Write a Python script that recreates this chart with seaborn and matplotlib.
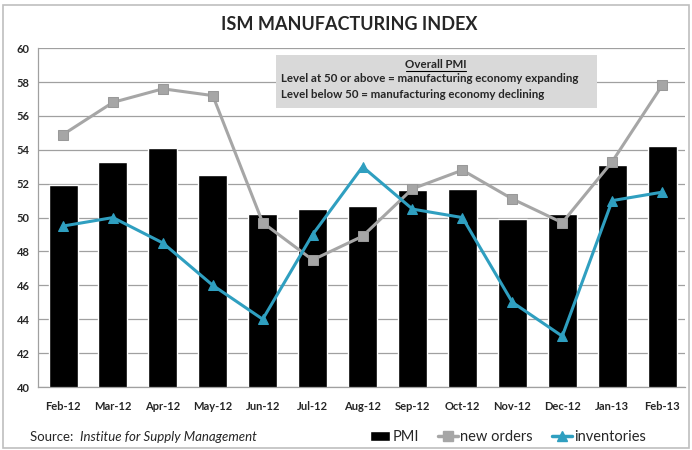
import matplotlib
matplotlib.use("Agg")
import matplotlib.pyplot as plt
import seaborn as sns
import pandas as pd
from matplotlib.patches import Rectangle
from matplotlib.lines import Line2D

months = ["Feb-12", "Mar-12", "Apr-12", "May-12", "Jun-12", "Jul-12", "Aug-12",
          "Sep-12", "Oct-12", "Nov-12", "Dec-12", "Jan-13", "Feb-13"]
pmi = [51.9, 53.3, 54.1, 52.5, 50.2, 50.5, 50.7, 51.6, 51.7, 49.9, 50.2, 53.1, 54.2]
new_orders = [54.9, 56.8, 57.6, 57.2, 49.7, 47.5, 48.9, 51.7, 52.8, 51.1, 49.7, 53.3, 57.8]
inventories = [49.5, 50.0, 48.5, 46.0, 44.0, 49.0, 53.0, 50.5, 50.0, 45.0, 43.0, 51.0, 51.5]
y_ticks = [40, 42, 44, 46, 48, 50, 52, 54, 56, 58, 60]

sns.set_theme(style="white")
plt.rcParams['font.family'] = ['Lato', 'DejaVu Sans']

df = pd.DataFrame({"month": months, "PMI": pmi, "new orders": new_orders,
                   "inventories": inventories})

fig = plt.figure(figsize=(6.92, 4.5), dpi=100)
ax = fig.add_axes([0.055, 0.14, 0.935, 0.753])

GRAY = "#a6a6a6"
TEAL = "#2f9fc0"

sns.barplot(data=df, x="month", y="PMI", color="black", width=0.58,
            saturation=1, ax=ax, zorder=2)
sns.lineplot(data=df, x="month", y="new orders", color=GRAY, marker="s",
             markersize=7, linewidth=2.2, markeredgecolor="#999999", sort=False,
             ax=ax, zorder=3)
sns.lineplot(data=df, x="month", y="inventories", color=TEAL, marker="^",
             markersize=7, linewidth=2.2, markeredgecolor=TEAL, sort=False,
             ax=ax, zorder=4)

ax.set_ylim(40, 60)
ax.set_xlim(-0.5, 12.46)
ax.set_yticks(y_ticks)
ax.set_yticklabels([str(v) for v in y_ticks], fontsize=8, fontweight="bold")
ax.set_xticks(range(len(months)))
ax.set_xticklabels(months, fontsize=8, fontweight="bold")
ax.tick_params(axis="x", pad=10, length=0)
ax.tick_params(axis="y", pad=6, length=0)
ax.set_xlabel("")
ax.set_ylabel("")
ax.yaxis.grid(True, color="#a0a0a0", linewidth=0.9, zorder=0)
ax.set_axisbelow(True)
for s in ["top", "right"]:
    ax.spines[s].set_visible(False)
ax.spines["left"].set_color("#a0a0a0")
ax.spines["bottom"].set_color("#a0a0a0")
ax.spines["left"].set_linewidth(0.9)
ax.spines["bottom"].set_linewidth(0.9)

# outer frame
fig.patches.append(Rectangle((0.004, 0.004), 0.992, 0.986, transform=fig.transFigure,
                             fill=False, edgecolor="#bfbfbf", linewidth=1.2))

fig.text(0.505, 0.945, "ISM MANUFACTURING INDEX", ha="center", va="center",
         fontsize=13, fontweight="bold")

# annotation box
fig.patches.append(Rectangle((276/692, 1-108/450), (597-276)/692, (108-55)/450,
                             transform=fig.transFigure, facecolor="#d9d9d9",
                             edgecolor="none", zorder=5))
fig.text(436/692, 1-65/450, "Overall PMI", ha="center", va="center",
         fontsize=8.3, fontweight="bold", zorder=6)
fig.add_artist(Line2D([406/692, 466/692], [1-71/450, 1-71/450], color="black",
                      linewidth=0.8, transform=fig.transFigure, zorder=6))
fig.text(281/692, 1-78/450, "Level at 50 or above = manufacturing economy expanding",
         ha="left", va="center", fontsize=8.3, fontweight="bold", zorder=6)
fig.text(281/692, 1-94/450, "Level below 50 = manufacturing economy declining",
         ha="left", va="center", fontsize=8.3, fontweight="bold", zorder=6)

# source
fig.text(30/692, 1-437/450, "Source: ", ha="left", va="center", fontsize=9.5)
fig.text(80/692, 1-437/450, "Institue for Supply Management", ha="left", va="center",
         fontsize=9.5, style="italic")

handles = [Rectangle((0, 0), 1, 1, facecolor="black"),
           Line2D([], [], color=GRAY, marker="s", linewidth=2.5, markersize=7),
           Line2D([], [], color=TEAL, marker="^", linewidth=2.5, markersize=7)]
fig.legend(handles, ["PMI", "new orders", "inventories"], loc="center",
           bbox_to_anchor=(508/692, 1-437/450), ncol=3, frameon=False,
           fontsize=10.5, handlelength=1.4, handletextpad=0.15, columnspacing=1.3)

fig.savefig("out.png", dpi=100)
